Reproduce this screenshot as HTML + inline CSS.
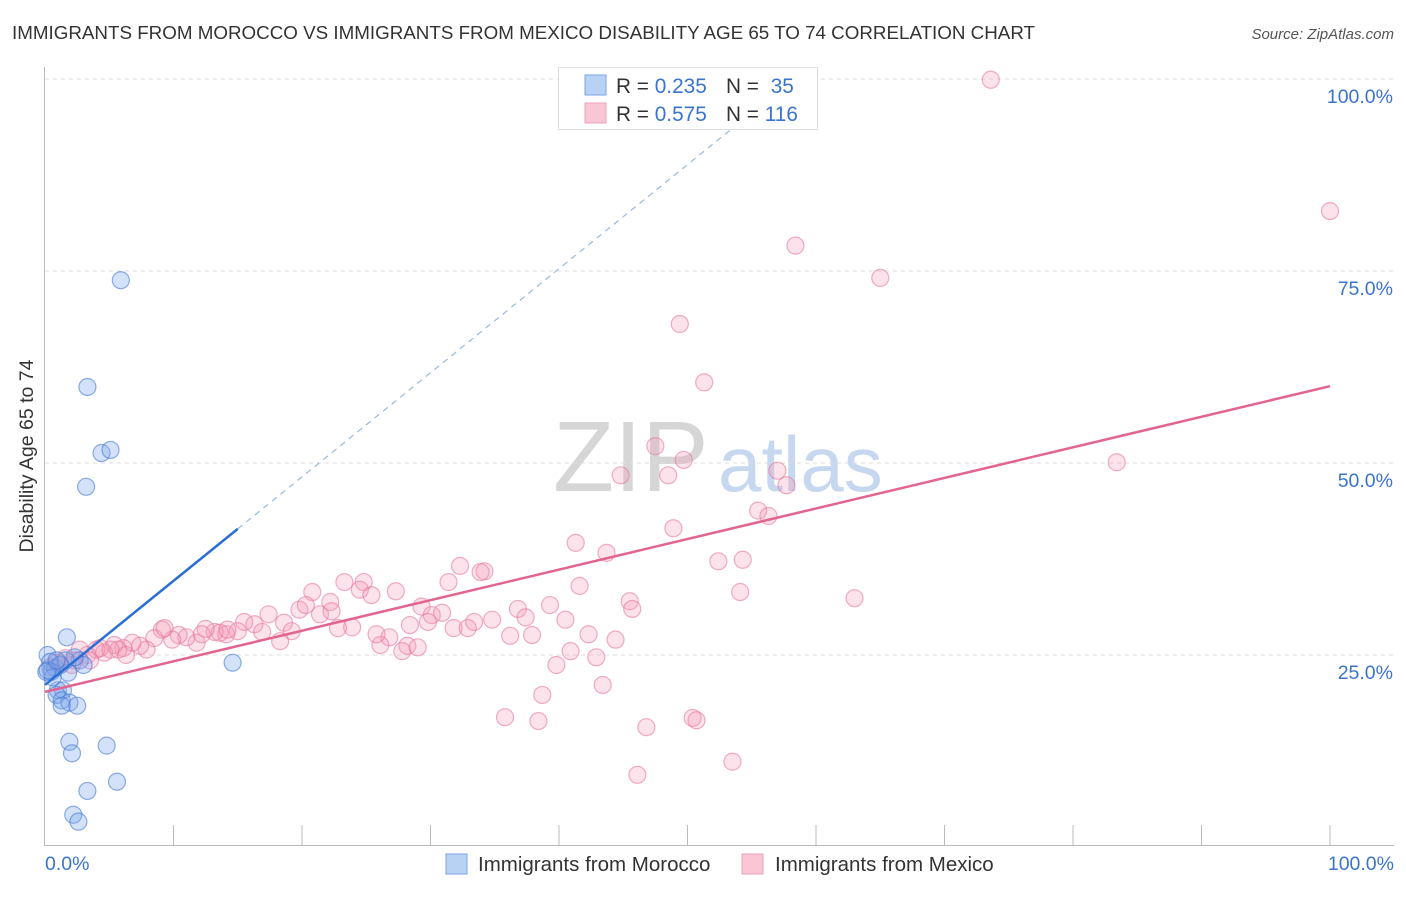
<!DOCTYPE html>
<html><head><meta charset="utf-8"><style>
body{margin:0;background:#fff;font-family:"Liberation Sans",sans-serif;}
svg text{font-family:"Liberation Sans",sans-serif;}
</style></head><body>
<svg id="chart" width="1406" height="892" xmlns="http://www.w3.org/2000/svg">
<text x="12" y="39" font-size="18.8" fill="#333">IMMIGRANTS FROM MOROCCO VS IMMIGRANTS FROM MEXICO DISABILITY AGE 65 TO 74 CORRELATION CHART</text>
<text x="1394" y="39" font-size="15" fill="#555" font-style="italic" text-anchor="end">Source: ZipAtlas.com</text>
<text x="33" y="456" font-size="19.5" fill="#333" text-anchor="middle" transform="rotate(-90 33 456)">Disability Age 65 to 74</text>
<g>
<text x="553" y="491" font-size="100" fill="#d6d6d6" font-family="Liberation Serif,serif">ZIP</text>
<text x="718" y="491" font-size="78" fill="#c6d8ef">atlas</text>
</g>
<g id="grid"></g><g id="axes"></g><g id="pts"></g><g id="lines"></g>
<g>
<rect x="558.5" y="67.5" width="259" height="62" fill="#fff" stroke="#ddd"/>
<rect x="585" y="75" width="21" height="20" fill="#b8d2f4" stroke="#7aa6e4"/>
<rect x="585" y="103" width="21" height="20" fill="#f9c6d6" stroke="#efa0ba"/>
<text x="616" y="93" font-size="20.8" fill="#333">R = <tspan fill="#3a74cc">0.235</tspan></text>
<text x="726" y="93" font-size="20.8" fill="#333">N = <tspan fill="#3a74cc" dx="6">35</tspan></text>
<text x="616" y="121" font-size="20.8" fill="#333">R = <tspan fill="#3a74cc">0.575</tspan></text>
<text x="726" y="121" font-size="20.8" fill="#333">N = <tspan fill="#3a74cc">116</tspan></text>
</g>
<g>
<rect x="446" y="854" width="21" height="20" fill="#b8d2f4" stroke="#7aa6e4"/>
<text x="478" y="871" font-size="20.5" fill="#333">Immigrants from Morocco</text>
<rect x="742" y="854" width="21" height="20" fill="#f9c6d6" stroke="#efa0ba"/>
<text x="775" y="871" font-size="20.5" fill="#333">Immigrants from Mexico</text>
</g>
</svg>
<script>
const yTicks=[25,50,75,100];
const yTickLabels=["25.0%","50.0%","75.0%","100.0%"];
const xEndLabels=["0.0%","100.0%"];
const moroccoX=[5.9,3.3,4.4,5.1,3.2,1.7,14.6,0.2,0.4,0.8,1.2,0.5,1.0,1.4,0.9,1.3,1.9,2.5,1.3,1.8,2.7,3.0,1.9,2.1,4.8,5.6,3.3,2.2,2.6,0.1,0.6,1.6,2.3,0.2,0.9];
const moroccoY=[73.8,59.9,51.3,51.7,46.9,27.3,24.0,25.0,24.1,23.3,23.7,22.8,20.4,20.4,19.8,19.1,18.8,18.4,18.4,22.7,24.3,23.7,13.7,12.2,13.2,8.5,7.3,4.2,3.3,22.8,22.1,24.3,24.7,23.0,24.3];
const mexicoX=[73.6,100,58.4,65.0,49.4,51.3,83.4,47.5,49.7,44.8,48.5,57.0,57.7,55.5,56.3,48.9,41.3,43.7,52.4,54.3,54.1,63.0,32.3,34.2,31.4,33.9,41.6,45.5,45.7,39.3,40.5,36.8,37.4,34.8,36.2,37.9,42.3,44.4,40.9,42.9,39.8,43.4,38.7,35.8,38.4,46.8,50.4,50.7,46.1,53.5,29.3,30.1,30.9,29.8,31.8,32.9,33.4,28.4,26.8,26.1,28.2,27.8,29.0,25.8,23.3,24.8,24.5,25.4,27.3,20.8,22.2,19.8,20.3,21.4,22.3,23.9,22.8,17.4,18.6,19.2,18.3,16.3,15.5,16.9,15.0,14.1,13.2,13.6,12.5,11.8,12.2,11.0,10.4,9.9,9.1,8.5,7.9,7.4,6.8,6.1,5.4,4.6,4.0,3.3,2.7,2.3,1.6,1.2,0.9,0.4,2.1,3.5,4.3,5.7,6.3,9.3,14.2,5.1];
const mexicoY=[99.9,82.8,78.3,74.1,68.1,60.5,50.1,52.2,50.4,48.4,48.4,49.0,47.1,43.8,43.1,41.5,39.6,38.3,37.2,37.4,33.2,32.4,36.6,35.9,34.5,35.8,34.0,32.0,31.0,31.5,29.6,31.0,29.9,29.6,27.5,27.6,27.7,27.0,25.5,24.7,23.7,21.1,19.8,16.9,16.4,15.6,16.8,16.5,9.4,11.1,31.3,30.2,30.5,29.3,28.5,28.5,29.3,28.9,27.3,26.3,26.2,25.5,26.0,27.7,34.5,34.5,33.5,32.8,33.3,33.2,31.9,30.9,31.5,30.3,30.7,28.6,28.5,30.3,29.2,28.1,26.8,29.0,29.3,28.0,28.1,27.7,28.0,27.9,28.4,26.6,27.7,27.3,27.6,27.0,28.3,27.2,25.7,26.2,26.6,25.9,26.3,25.3,25.7,25.0,25.7,24.3,24.6,23.8,24.0,23.4,23.7,24.3,25.9,25.7,25.0,28.5,28.3,25.7];
const moroccoTrend=[21.1,1.355];   // intercept, slope
const mexicoTrend=[20.2,0.398];
const moroccoSolidEnd=15, moroccoDashEnd=54.1;

const NS="http://www.w3.org/2000/svg";
const X0=45,X1=1330,Y0=847,YPER=7.68;
const sx=v=>X0+(X1-X0)*v/100;
const sy=v=>Y0-YPER*v;
function mk(tag,attrs,parent){const e=document.createElementNS(NS,tag);for(const k in attrs)e.setAttribute(k,attrs[k]);document.getElementById(parent).appendChild(e);return e;}

yTicks.forEach((t,i)=>{
  const l=mk('line',{x1:45,x2:1394,y1:sy(t),y2:sy(t),stroke:'#ddd','stroke-dasharray':'4,4'},'grid');
  
  
  const tx=mk('text',{x:1393,y:sy(t)+24,'font-size':19.5,fill:'#3a74cc','text-anchor':'end'},'grid');
  tx.textContent=yTickLabels[i];
  
  
});
const ax=mk('path',{d:'M44.5 67V845.5H1394',fill:'none',stroke:'#bbb'},'axes');


for(let i=1;i<=10;i++){
  const x=sx(i*10);
  const t=mk('line',{x1:x,x2:x,y1:825,y2:845,stroke:'#bbb'},'axes');
  
  
}
[[0,'start',45],[100,'end',1394]].forEach((d,i)=>{
  const t=mk('text',{x:d[2],y:870,'font-size':19.5,fill:'#3a74cc','text-anchor':d[1]},'axes');
  t.textContent=xEndLabels[i];
  
  
});
mexicoX.forEach((v,i)=>{
  const c=mk('circle',{cx:sx(v),cy:sy(mexicoY[i]),r:8.5,fill:'rgba(244,150,180,0.28)',stroke:'rgba(232,120,160,0.6)','stroke-width':1.2},'pts');
  
  
});
moroccoX.forEach((v,i)=>{
  const c=mk('circle',{cx:sx(v),cy:sy(moroccoY[i]),r:8.5,fill:'rgba(120,165,235,0.32)',stroke:'rgba(70,120,210,0.6)','stroke-width':1.2},'pts');
  
  
});
const ty=(t,x)=>t[0]+t[1]*x;
const l1=mk('line',{x1:sx(0),y1:sy(ty(moroccoTrend,0)),x2:sx(moroccoSolidEnd),y2:sy(ty(moroccoTrend,moroccoSolidEnd)),stroke:'#2a6fd6','stroke-width':2.5},'lines');


const l2=mk('line',{x1:sx(moroccoSolidEnd),y1:sy(ty(moroccoTrend,moroccoSolidEnd)),x2:sx(moroccoDashEnd),y2:sy(ty(moroccoTrend,moroccoDashEnd)),stroke:'#9ab8e0','stroke-width':1.2,'stroke-dasharray':'6,5'},'lines');


const l3=mk('line',{x1:sx(0),y1:sy(ty(mexicoTrend,0)),x2:sx(100),y2:sy(ty(mexicoTrend,100)),stroke:'#e2648f','stroke-width':2.5},'lines');


</script>
</body></html>
